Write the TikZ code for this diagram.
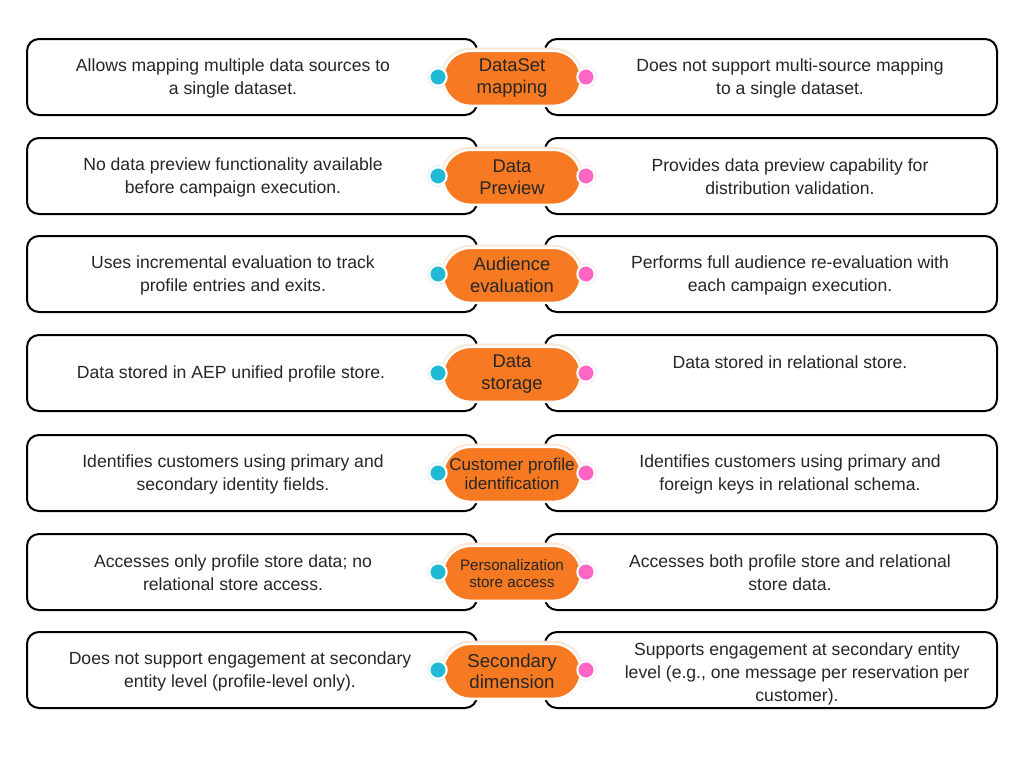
\documentclass[tikz,border=0pt]{standalone}
\usepackage{fontspec}
\setmainfont{Liberation Sans}
\usetikzlibrary{shapes.misc}
\definecolor{pillorange}{HTML}{F77A23}
\definecolor{halo}{HTML}{FEE6D5}
\definecolor{dotcyan}{HTML}{21BAD6}
\definecolor{dotpink}{HTML}{FF66C4}
\definecolor{txt}{HTML}{262626}
\tikzset{
  cmpbox/.style={draw=black, line width=1.5pt, rounded corners=9pt, fill=white,
    minimum height=57pt, inner sep=0pt},
  lbox/.style={cmpbox, minimum width=337.5pt},
  rbox/.style={cmpbox, minimum width=339pt},
  pillhalo/.style={rounded rectangle, fill=halo, minimum width=106.5pt, minimum height=44pt, inner sep=0pt},
  pill/.style={rounded rectangle, fill=pillorange, draw=white, line width=1.8pt,
    minimum width=103.5pt, minimum height=41.25pt, inner sep=0pt, align=center, text=txt},
  cdot/.style={circle, fill=#1, draw=white, line width=1.6pt, minimum size=13pt, inner sep=0pt},
  cdothalo/.style={circle, fill=#1!14, minimum size=16.5pt, inner sep=0pt},
  desc/.style={align=center, text=txt, font=\fontsize{13.2}{17.25}\selectfont, yshift=-0.8pt}
}
\begin{document}
\begin{tikzpicture}[x=0.75pt,y=-0.75pt]
\useasboundingbox[fill=white] (0,0) rectangle (1024,768);
\foreach \y/\n in {77/1,176/2,274/3,373/4,473/5,572/6,670/7}{
  \node[lbox] (L\n) at (252,\y) {};
  \node[rbox] (R\n) at (771,\y) {};
  \node[pillhalo] (H\n) at (512,\y) {};
  \node[cdothalo=dotcyan] (CH\n) at (438,\y) {};
  \node[cdothalo=dotpink] (PH\n) at (586,\y) {};
}
% pills
\node[pill, font=\fontsize{13.8}{16.5}\selectfont, yshift=-1pt] (P1) at (512,77) {DataSet\\mapping};
\node[pill, font=\fontsize{13.8}{16.5}\selectfont, yshift=-1pt] (P2) at (512,176) {Data\\Preview};
\node[pill, font=\fontsize{13.8}{16.5}\selectfont, yshift=-1pt] (P3) at (512,274) {Audience\\evaluation};
\node[pill, font=\fontsize{13.8}{16.5}\selectfont, yshift=-1pt] (P4) at (512,373) {Data\\storage};
\node[pill, font=\fontsize{12.8}{14.25}\selectfont, yshift=-1pt] (P5) at (512,473) {Customer profile\\identification};
\node[pill, font=\fontsize{11.4}{12.75}\selectfont, yshift=-1pt] (P6) at (512,572) {Personalization\\store access};
\node[pill, font=\fontsize{14}{15.75}\selectfont, yshift=-1pt] (P7) at (512,670) {Secondary\\dimension};
% dots
\foreach \y/\n in {77/1,176/2,274/3,373/4,473/5,572/6,670/7}{
  \node[cdot=dotcyan] (C\n) at (438,\y) {};
  \node[cdot=dotpink] (K\n) at (586,\y) {};
}
% left texts
\node[desc] (LT1) at (233,77) {Allows mapping multiple data sources to\\a single dataset.};
\node[desc] (LT2) at (233,176) {No data preview functionality available\\before campaign execution.};
\node[desc] (LT3) at (233,274) {Uses incremental evaluation to track\\profile entries and exits.};
\node[desc] (LT4) at (231,373) {Data stored in AEP unified profile store.};
\node[desc] (LT5) at (233,473) {Identifies customers using primary and\\secondary identity fields.};
\node[desc] (LT6) at (233,572) {Accesses only profile store data; no\\relational store access.};
\node[desc] (LT7) at (240,670) {Does not support engagement at secondary\\entity level (profile-level only).};
% right texts
\node[desc] (RT1) at (790,77) {Does not support multi-source mapping\\to a single dataset.};
\node[desc] (RT2) at (790,176) {Provides data preview capability for\\distribution validation.};
\node[desc] (RT3) at (790,274) {Performs full audience re-evaluation with\\each campaign execution.};
\node[desc] (RT4) at (790,361) {Data stored in relational store.};
\node[desc] (RT5) at (790,473) {Identifies customers using primary and\\foreign keys in relational schema.};
\node[desc] (RT6) at (790,572) {Accesses both profile store and relational\\store data.};
\node[desc] (RT7) at (797,673) {Supports engagement at secondary entity\\level (e.g., one message per reservation per\\customer).};
\end{tikzpicture}
\end{document}
